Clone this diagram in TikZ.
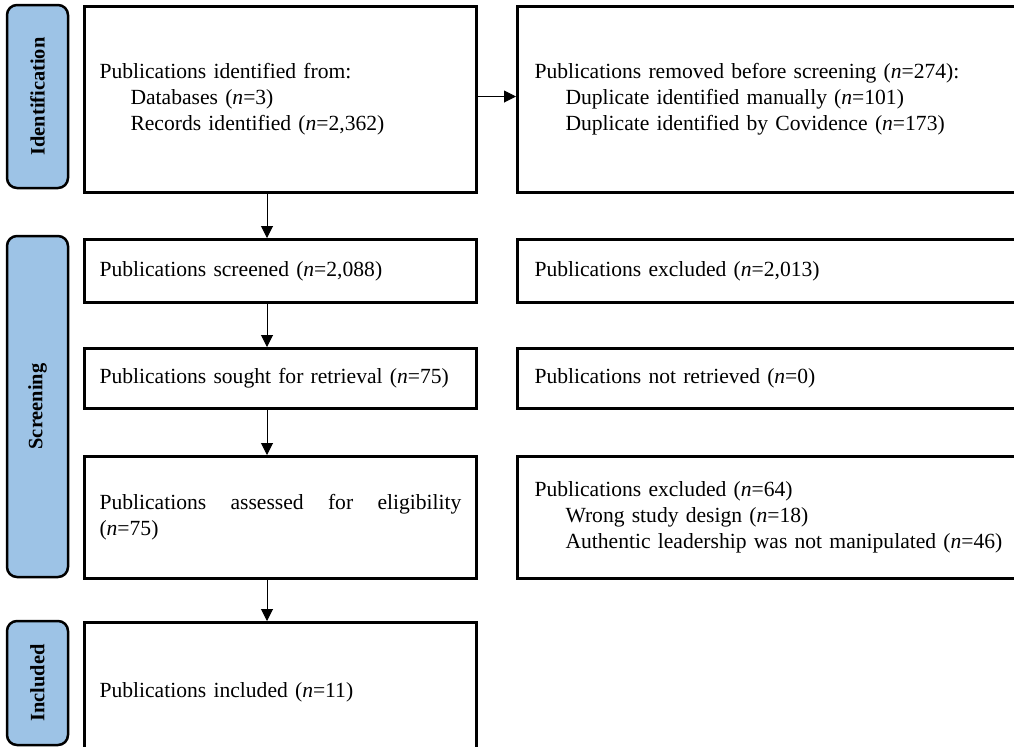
\documentclass[tikz,border=0pt]{standalone}
\usepackage{fontspec}
\setmainfont{Liberation Serif}
\definecolor{STAGEblue}{HTML}{9DC3E6}
\usetikzlibrary{arrows.meta, positioning}
\newcommand{\sublead}{\hspace*{15.5pt}}

\begin{document}
\begin{tikzpicture}[x=0.5pt, y=-0.5pt,
   stage/.style={draw, line width=1.25pt, fill=STAGEblue, rounded corners=5pt,
      rotate=90, anchor=center, minimum height=30.5pt, inner sep=0pt,
      font=\fontsize{10.2}{12}\selectfont\bfseries},
   box/.style={draw, line width=1.5pt, anchor=north west, align=left,
      inner xsep=7.5pt, inner ysep=0pt, text width=181pt,
      font=\fontsize{10.8}{13}\selectfont},
   sidebox/.style={box, inner xsep=8.5pt, text width=260pt},
   arr/.style={-{Triangle[length=6pt, width=6pt]}, line width=0.5pt}]
            % Page
            \useasboundingbox (0,0) rectangle (1014,746);
            \clip (0,0) rectangle (1014,746);
            % Stages
            \node[stage, minimum width=91.5pt] (lbid) at (37.5,96.5) {Identification};
            \node[stage, minimum width=170.5pt] (lbsc) at (37.5,406.5) {Screening};
            \node[stage, minimum width=62pt] (lbin) at (37.5,683) {Included};
            % Main column
            \node[box, minimum height=93pt] (ident) at (83,5)
               {Publications identified from:\\
                \sublead Databases (\textit{n}=3)\\
                \sublead Records identified (\textit{n}=2,362)};
            \node[box, minimum height=31.5pt] (screened) at (83,238)
               {Publications screened (\textit{n}=2,088)};
            \node[box, minimum height=30pt] (sought) at (83,347)
               {Publications sought for retrieval (\textit{n}=75)};
            \node[box, align=justify, minimum height=61pt] (assessed) at (83,455)
               {Publications assessed for eligibility (\textit{n}=75)};
            \node[box, minimum height=70pt] (included) at (83,621)
               {Publications included (\textit{n}=11)};
            % Side column
            \node[sidebox, minimum height=93pt] (removed) at (516,5)
               {Publications removed before screening (\textit{n}=274):\\
                \sublead Duplicate identified manually (\textit{n}=101)\\
                \sublead Duplicate identified by Covidence (\textit{n}=173)};
            \node[sidebox, minimum height=31.5pt] (excl1) at (516,238)
               {Publications excluded (\textit{n}=2,013)};
            \node[sidebox, minimum height=30pt] (notret) at (516,347)
               {Publications not retrieved (\textit{n}=0)};
            \node[sidebox, minimum height=61pt] (excl2) at (516,455)
               {Publications excluded (\textit{n}=64)\\
                \sublead Wrong study design (\textit{n}=18)\\
                \sublead Authentic leadership was not manipulated (\textit{n}=46)};
            % Arrows
            \draw[arr] ([yshift=1.5pt]ident.east) -- ([yshift=1.5pt]removed.west);
            \draw[arr] ([xshift=92pt]ident.south west) -- ([xshift=92pt]screened.north west);
            \draw[arr] ([xshift=92pt]screened.south west) -- ([xshift=92pt]sought.north west);
            \draw[arr] ([xshift=92pt]sought.south west) -- ([xshift=92pt]assessed.north west);
            \draw[arr] ([xshift=92pt]assessed.south west) -- ([xshift=92pt]included.north west);
         \end{tikzpicture}
\end{document}
